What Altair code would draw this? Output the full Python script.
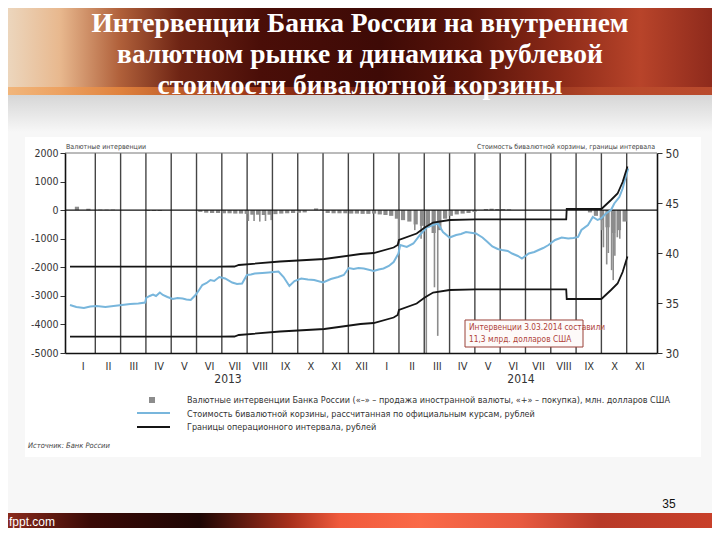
import calendar
import altair as alt
import pandas as pd

# ---------------- data ----------------
# x position = months since 1 Jan 2013 (the source chart draws months of equal width)
month_labels = ["I", "II", "III", "IV", "V", "VI", "VII", "VIII", "IX", "X", "XI", "XII"]
n_months = 23  # Jan 2013 .. Nov 2014

# bivalute basket value, rubles
basket_t = [0.0, 0.25, 0.55, 0.8, 1.05, 1.4, 1.72, 2.05, 2.38, 2.7,
            2.97, 3.01, 3.15, 3.28, 3.4, 3.55, 3.67, 3.85, 4.06, 4.25,
            4.45, 4.6, 4.77, 4.96, 5.1, 5.23, 5.4, 5.55, 5.7, 5.9,
            6.13, 6.41, 6.6, 6.8, 6.99, 7.15, 7.3, 7.6, 7.85, 8.05,
            8.24, 8.44, 8.67, 8.87, 9.14, 9.4, 9.65, 10.0, 10.31, 10.6,
            10.82, 11.02, 11.21, 11.4, 11.61, 12.0, 12.2, 12.39, 12.6, 12.79,
            12.98, 13.05, 13.31, 13.57, 13.83, 14.09, 14.35, 14.54, 14.74, 15.0,
            15.26, 15.45, 15.65, 16.04, 16.3, 16.5, 16.69, 16.9, 17.08, 17.3,
            17.47, 17.7, 17.86, 18.13, 18.35, 18.52, 18.7, 18.91, 19.17, 19.43,
            19.69, 19.9, 20.08, 20.21, 20.47, 20.66, 20.85, 20.99, 21.18, 21.38,
            21.51, 21.71, 21.84, 21.96, 22.06]
basket_v = [34.8, 34.6, 34.5, 34.65, 34.7, 34.6, 34.7, 34.8, 34.9, 34.95,
            35.05, 35.5, 35.7, 35.85, 35.7, 36.05, 35.8, 35.6, 35.4, 35.5,
            35.45, 35.35, 35.3, 35.8, 36.3, 36.8, 37.0, 37.3, 37.2, 37.6,
            37.45, 37.05, 36.9, 36.95, 37.8, 37.85, 37.95, 38.0, 38.05, 38.1,
            38.15, 37.6, 36.7, 37.2, 37.45, 37.35, 37.3, 37.05, 37.4, 37.6,
            37.8, 38.5, 38.4, 38.5, 38.45, 38.2, 38.35, 38.45, 38.7, 39.1,
            39.95, 40.8, 40.6, 40.95, 41.8, 42.55, 42.8, 42.95, 42.1, 41.55,
            41.8, 41.9, 42.1, 41.95, 41.55, 41.1, 40.65, 40.4, 40.3, 40.2,
            39.95, 39.7, 39.45, 39.95, 40.1, 40.3, 40.5, 40.8, 41.3, 41.55,
            41.45, 41.5, 41.6, 42.3, 42.8, 43.6, 43.3, 43.45, 43.95, 44.3,
            44.95, 45.6, 46.45, 47.6, 48.45]

# operational interval bounds, rubles
band_t = [0, 5.89, 6.5, 6.67, 8.3, 10.05, 11.48, 12.0, 12.79, 12.95, 13.0, 13.7,
          14.02, 14.35, 15.0, 16.04, 19.61, 19.63, 21.0, 21.38, 21.64, 21.84, 22.03]
band_upper = [38.63, 38.63, 38.65, 38.8, 39.15, 39.4, 39.9, 40.0, 40.55, 40.8, 41.3, 41.95,
              42.55, 43.05, 43.3, 43.37, 43.37, 44.4, 44.4, 45.3, 45.95, 47.1, 48.65]
band_lower = [31.63, 31.63, 31.65, 31.8, 32.15, 32.4, 32.9, 33.0, 33.55, 33.8, 34.3, 34.95,
              35.55, 36.05, 36.3, 36.37, 36.37, 35.4, 35.4, 36.3, 36.95, 38.1, 39.65]

# weekly interventions, mln USD (weeks starting Monday 7 Jan 2013)
week_start = "2013-01-07"
weekly_interv = [120, 0, 50, 0, 20, 20, 20, 0, 0, 0,
                 0, 0, -30, -30, -30, 0, 0, 0, 0, 0,
                 0, -60, -90, -100, -100, -110, -110, -120, -120, -130,
                 -160, -160, -170, -160, -140, -120, -110, -100, -90, -80,
                 0, 60, 30, -100, -110, -110, -110, -120, -120, -130,
                 -130, -120, -150, -170, -200, -300, -350, -400, -500, -550,
                 -600, -800, -700, -300, -200, -150, -120, -100, -60, 0,
                 40, 50, 40, 40, 30, 0, 0, 0, 0, 0,
                 0, 0, 0, 0, 0, 0, 0, 0, -80, -200,
                 -350, -600, -800, -700, -400]

# single-day interventions, mln USD
spike_dates = ["2013-08-02", "2013-08-09", "2013-08-16", "2013-08-23", "2013-08-30",
               "2014-01-31", "2014-02-18", "2014-02-25", "2014-03-03", "2014-03-13",
               "2014-03-17", "2014-10-01", "2014-10-03", "2014-10-07", "2014-10-09",
               "2014-10-13", "2014-10-15", "2014-10-17", "2014-10-20", "2014-10-23"]
spike_vals = [-380, -380, -400, -380, -350,
              -1200, -700, -1000, -11300, -2700,
              -4400, -700, -1300, -1900, -1500,
              -2100, -2450, -1600, -950, -1000]

title_lines = ["Интервенции Банка России на внутреннем",
               "валютном рынке и динамика рублевой",
               "стоимости бивалютной корзины"]
legend_texts = ["Валютные интервенции Банка России («–» – продажа иностранной валюты, «+» – покупка), млн. долларов США",
                "Стоимость бивалютной корзины, рассчитанная по официальным курсам, рублей",
                "Границы операционного интервала, рублей"]
note_lines = ["Интервенции 3.03.2014 составили", "11,3 млрд. долларов США"]

# ---------------- helpers ----------------
def month_pos(ts):
    dim = calendar.monthrange(ts.year, ts.month)[1]
    return (ts.year - 2013) * 12 + (ts.month - 1) + (ts.day - 0.5) / dim

week_dates = pd.date_range(week_start, periods=len(weekly_interv), freq="7D") + pd.Timedelta(days=2)
weekly_df = pd.DataFrame({"t": [month_pos(d) for d in week_dates], "v": weekly_interv})
spike_df = pd.DataFrame({"t": [month_pos(pd.Timestamp(d)) for d in spike_dates], "v": spike_vals})
nb = min(len(basket_t), len(basket_v))
basket_df = pd.DataFrame({"t": basket_t[:nb], "r": basket_v[:nb]})
band_df = pd.concat([
    pd.DataFrame({"t": band_t, "r": band_upper, "s": "upper"}),
    pd.DataFrame({"t": band_t, "r": band_lower, "s": "lower"}),
])
grid_df = pd.DataFrame({"t": list(range(1, n_months))})
zero_df = pd.DataFrame({"v": [0]})
one = pd.DataFrame({"a": [0]})

NARROW = "Liberation Sans Narrow, Arial Narrow, DejaVu Sans Condensed, sans-serif"
SERIF = "Liberation Serif, Times New Roman, serif"
SANS = "Liberation Sans, Arial, sans-serif"

W, H = 592, 200
X0, Y0 = 65, 153  # page position of plot origin


def hgrad(stops, x_from=8, x_to=712):
    return {"gradient": "linear", "x1": 0, "y1": 0, "x2": 1, "y2": 0,
            "stops": [{"offset": max(0, min(1, (x - x_from) / (x_to - x_from))), "color": c} for x, c in stops]}


def vgrad(stops):
    return {"gradient": "linear", "x1": 0, "y1": 0, "x2": 0, "y2": 1,
            "stops": [{"offset": o, "color": c} for o, c in stops]}


def rect(x1, y1, x2, y2, **kw):
    return alt.Chart(one).mark_rect(**kw).encode(
        x=alt.value(x1 - X0), x2=alt.value(x2 - X0), y=alt.value(y1 - Y0), y2=alt.value(y2 - Y0))


def text(s, x, y, **kw):
    return alt.Chart(one).mark_text(text=s, **kw).encode(x=alt.value(x - X0), y=alt.value(y - Y0))


def hline(x1, x2, y, color, w):
    return alt.Chart(one).mark_rule(color=color, strokeWidth=w).encode(
        x=alt.value(x1 - X0), x2=alt.value(x2 - X0), y=alt.value(y - Y0))


# ---------------- scales / axes ----------------
label_expr = "[" + ",".join("'%s'" % m for m in month_labels) + "][floor(datum.value) % 12]"
x_axis = alt.Axis(values=[i + 0.5 for i in range(n_months)], labelExpr=label_expr, ticks=False,
                  grid=False, domainColor="#111", domainWidth=1.6, labelFont=NARROW,
                  labelFontSize=11, labelColor="#333", labelPadding=7, labelOverlap=False,
                  labelFlush=False, title=None, zindex=1)
X = alt.X("t:Q", scale=alt.Scale(domain=[0, n_months], nice=False, zero=False), axis=x_axis)

yl_axis = alt.Axis(orient="left", values=list(range(-5000, 2001, 1000)), labelExpr="'' + datum.value",
                   title=None, grid=False, tickSize=5, tickColor="#333", tickWidth=1,
                   domainColor="#111", domainWidth=1.6, labelFont=NARROW, labelFontSize=10.5,
                   labelColor="#333", labelPadding=2, labelOverlap=False, labelFlush=False, zindex=1)
YL = alt.Y("v:Q", scale=alt.Scale(domain=[-5000, 2000], nice=False, clamp=True), axis=yl_axis)

yr_axis = alt.Axis(orient="right", values=[30, 35, 40, 45, 50], title=None, grid=False, tickSize=5,
                   tickColor="#333", tickWidth=1, domainColor="#111", domainWidth=1.6,
                   labelFont=NARROW, labelFontSize=12, labelColor="#333", labelPadding=3,
                   labelOverlap=False, labelFlush=False, zindex=1)
YR = alt.Y("r:Q", scale=alt.Scale(domain=[30, 50], nice=False, zero=False), axis=yr_axis)

# ---------------- slide decoration ----------------
bg = rect(8, 8, 712, 528, color="#f7f7f7")
shadow = rect(8, 95, 712, 132, color=vgrad([(0, "#d6d6d6"), (1, "#f7f7f7")]))
band = rect(8, 8, 712, 95, color=hgrad([(8, "#ecd6bd"), (60, "#e8b88e"), (120, "#b0603a"),
                                         (180, "#6e2414"), (260, "#4a0e08"), (380, "#3e0a06"),
                                         (470, "#5a140a"), (560, "#8c2a18"), (640, "#b8442a"),
                                         (712, "#8e2a1c")]))
band_strip = rect(8, 87, 712, 95, color=hgrad([(8, "#f2b070"), (120, "#e8883e"), (260, "#a83a18"),
                                               (420, "#5a140a"), (600, "#b84a2a"), (712, "#c05030")]),
                  opacity=0.85)
footer = rect(8, 513, 712, 528, color=hgrad([(8, "#8a2a1c"), (90, "#3a0a06"), (200, "#1e0604"),
                                             (290, "#a8301c"), (340, "#f05a3c"), (420, "#fa6a48"),
                                             (520, "#e85a40"), (600, "#b83a28"), (712, "#c8402a")]))
chart_bg = rect(25, 137, 701, 457, color="#ffffff")

title_layers = [text(s, 360, y, font=SERIF, fontSize=27.5, fontWeight="bold", color="#ffffff",
                     align="center", baseline="alphabetic")
                for s, y in zip(title_lines, [32, 63, 94])]

# ---------------- data layers ----------------
grid = alt.Chart(grid_df).mark_rule(color="#454545", strokeWidth=1.4).encode(x=X)
top_frame = hline(65, 657, 153, "#777777", 1)

bars = alt.Chart(weekly_df).mark_bar(size=4.2, color="#8c8c8c").encode(x=X, y=YL, y2=alt.datum(0))
spikes = alt.Chart(spike_df).mark_bar(size=1.6, color="#8c8c8c").encode(x=X, y=YL, y2=alt.datum(0))
zero_rule = alt.Chart(zero_df).mark_rule(color="#111", strokeWidth=1.3).encode(y=YL)
left = alt.layer(bars, spikes, zero_rule)

basket = alt.Chart(basket_df).mark_line(color="#78b6dc", strokeWidth=2).encode(x=X, y=YR)
bounds = alt.Chart(band_df).mark_line(color="#151515", strokeWidth=1.8).encode(x=X, y=YR, detail="s:N")
right = alt.layer(basket, bounds)

# ---------------- chart texts ----------------
texts = [
    text("Валютные интервенции", 66, 146.5, font=NARROW, fontSize=7, color="#444", align="left", baseline="middle"),
    text("Стоимость бивалютной корзины, границы интервала", 655, 146.5, font=NARROW, fontSize=7,
         color="#444", align="right", baseline="middle"),
    text("2013", 228, 379, font=NARROW, fontSize=12, color="#333", align="center", baseline="middle"),
    text("2014", 521, 379, font=NARROW, fontSize=12, color="#333", align="center", baseline="middle"),
    text("Источник: Банк России", 28, 446, font=NARROW, fontSize=7.5, fontStyle="italic", color="#444",
         align="left", baseline="middle"),
    text("35", 669, 504, font=SANS, fontSize=12, color="#111", align="center", baseline="middle"),
    text("fppt.com", 9, 522, font=SANS, fontSize=12, color="#ffffff", align="left", baseline="middle"),
]
legend = [
    rect(149, 397, 155, 403, color="#8c8c8c"),
    hline(137, 170, 413, "#78b6dc", 2),
    hline(137, 170, 427, "#151515", 2),
] + [text(s, 187, y, font=NARROW, fontSize=9, color="#333", align="left", baseline="middle")
     for s, y in zip(legend_texts, [400, 413.5, 427])]

note = [rect(465, 320, 583, 347, color="#fdfaf9", stroke="#9a4038", strokeWidth=1)] + [
    text(s, 469, y, font=NARROW, fontSize=8.3, color="#b0443a", align="left", baseline="middle")
    for s, y in zip(note_lines, [327.5, 340])]

layers = [bg, shadow, band, band_strip, footer, chart_bg] + title_layers + \
         [grid, top_frame, left, right] + note + texts + legend

chart = alt.layer(*layers).resolve_scale(y="independent").properties(
    width=W, height=H, padding=0
).configure_view(stroke=None)

chart.save("out.html", embed_options={"renderer": "svg", "actions": False})
